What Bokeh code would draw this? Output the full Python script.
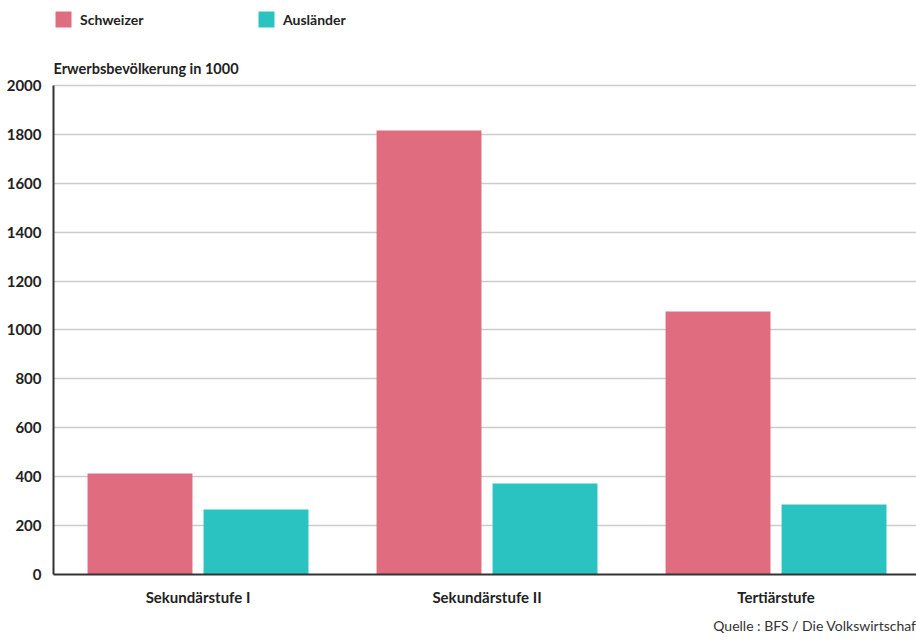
from bokeh.plotting import figure
from bokeh.models import Range1d, FixedTicker, Legend, LegendItem, Title, Label, ColumnDataSource
from bokeh.embed import file_html
from bokeh.resources import INLINE

categories = ["Sekundärstufe I", "Sekundärstufe II", "Tertiärstufe"]
schweizer = [413, 1816, 1076]
auslaender = [266, 372, 286]
series_names = ["Schweizer", "Ausländer"]
y_ticks = list(range(0, 2001, 200))
y_title = "Erwerbsbevölkerung in 1000"
source_text = "Quelle : BFS / Die Volkswirtschaf"

FONT = "Lato"
PINK = "#df6d7f"
TEAL = "#2ac3c1"

centers = [i + 0.5 for i in range(len(categories))]
off = 0.2007
bw = 0.363
y_max = 2000
y_top = 2347.6  # headroom above the axis for legend and title

src = ColumnDataSource(dict(
    xs=[c - off for c in centers], xa=[c + off for c in centers],
    s=schweizer, a=auslaender))

p = figure(width=916, height=641, output_backend="svg", toolbar_location=None,
           x_range=Range1d(0, 2.986), y_range=Range1d(0, y_top),
           min_border_left=53, min_border_right=0, min_border_top=0, min_border_bottom=67)
p.title = None
p.outline_line_color = None
p.background_fill_color = "white"
p.border_fill_color = "white"

r1 = p.vbar(x="xs", top="s", width=bw, source=src, fill_color=PINK, line_color=None)
r2 = p.vbar(x="xa", top="a", width=bw, source=src, fill_color=TEAL, line_color=None)

p.xgrid.visible = False
p.ygrid.ticker = FixedTicker(ticks=y_ticks)
p.ygrid.grid_line_color = "#cccccc"
p.ygrid.grid_line_width = 1.5

p.yaxis.ticker = FixedTicker(ticks=y_ticks)
p.yaxis.bounds = (0, y_max)
p.yaxis.major_tick_line_color = None
p.yaxis.minor_tick_line_color = None
p.yaxis.major_tick_out = 0
p.yaxis.major_tick_in = 0
p.yaxis.minor_tick_out = 0
p.yaxis.axis_line_color = "#333333"
p.yaxis.axis_line_width = 2
p.yaxis.major_label_standoff = 12
p.yaxis.major_label_text_font = FONT
p.yaxis.major_label_text_font_style = "bold"
p.yaxis.major_label_text_font_size = "15px"
p.yaxis.major_label_text_color = "#222222"

p.xaxis.ticker = FixedTicker(ticks=centers)
p.xaxis.major_label_overrides = {c: cat for c, cat in zip(centers, categories)}
p.xaxis.major_tick_line_color = None
p.xaxis.minor_tick_line_color = None
p.xaxis.major_tick_out = 0
p.xaxis.major_tick_in = 0
p.xaxis.minor_tick_out = 0
p.xaxis.axis_line_color = "#333333"
p.xaxis.axis_line_width = 2
p.xaxis.major_label_standoff = 13
p.xaxis.major_label_text_font = FONT
p.xaxis.major_label_text_font_style = "bold"
p.xaxis.major_label_text_font_size = "15px"
p.xaxis.major_label_text_color = "#222222"

for r, name, lx in [(r1, series_names[0], 0), (r2, series_names[1], 203)]:
    lg = Legend(items=[LegendItem(label=name, renderers=[r])], location=(lx, 545),
                glyph_width=20, glyph_height=20, label_standoff=7,
                label_text_font=FONT, label_text_font_style="bold",
                label_text_font_size="14px", label_text_color="#222222",
                padding=0, margin=0, border_line_color=None,
                background_fill_alpha=0)
    p.add_layout(lg, "center")

p.add_layout(Label(x=0, y=506, x_units="screen", y_units="screen", text=y_title,
                   text_font=FONT, text_font_style="bold", text_font_size="14.5px",
                   text_color="#222222", text_align="left", text_baseline="alphabetic"))

p.add_layout(Title(text=source_text, align="right", text_font=FONT,
                   text_font_style="normal", text_font_size="14px",
                   text_color="#333333", standoff=12), "below")

open("out.html", "w").write(file_html(p, INLINE))
